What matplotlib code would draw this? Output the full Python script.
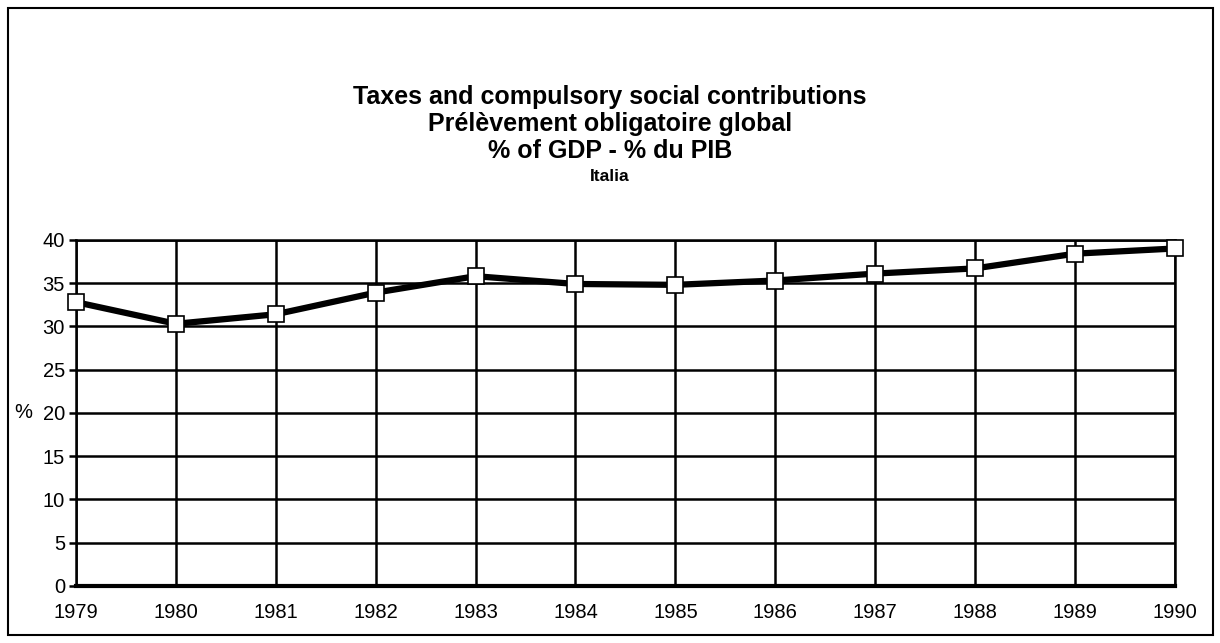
import matplotlib
matplotlib.use('Agg')
import matplotlib.pyplot as plt
from matplotlib.patches import Rectangle
from matplotlib.transforms import blended_transform_factory

plt.rcParams['font.family'] = ['Liberation Sans', 'DejaVu Sans']

years = [1979, 1980, 1981, 1982, 1983, 1984, 1985, 1986, 1987, 1988, 1989, 1990]
pct_gdp = [32.8, 30.3, 31.4, 33.9, 35.8, 34.9, 34.8, 35.3, 36.1, 36.7, 38.4, 39.0]
y_ticks = [0, 5, 10, 15, 20, 25, 30, 35, 40]

fig = plt.figure(figsize=(12.2, 6.43), dpi=100)
ax = fig.add_axes([0.0623, 0.0887, 0.9007, 0.5383])

ax.plot(years, pct_gdp, color='black', linewidth=4.5, marker='s', markersize=11,
        markerfacecolor='white', markeredgecolor='black', markeredgewidth=1.2,
        zorder=3, clip_on=False)

ax.set_xlim(years[0], years[-1])
ax.set_ylim(0, 40)
ax.set_xticks(years)
ax.set_yticks(y_ticks)
ax.grid(True, color='black', linewidth=1.8)
for s in ['left', 'bottom', 'right', 'top']:
    ax.spines[s].set_linewidth(1.8)
ax.spines['bottom'].set_linewidth(3)
ax.tick_params(axis='x', length=0, pad=12, labelsize=14.5)
ax.tick_params(axis='y', length=5, width=1.8, pad=3, labelsize=14.5)

# "%" sits on the same line as the 20 tick
trans = blended_transform_factory(fig.transFigure, ax.transData)
ax.text(14 / 1220, 20, '%', transform=trans, ha='left', va='center', fontsize=14.5)

fig.text(0.5, 0.849, 'Taxes and compulsory social contributions', ha='center',
         va='center', fontsize=18, fontweight='bold')
fig.text(0.5, 0.807, 'Prélèvement obligatoire global', ha='center',
         va='center', fontsize=18, fontweight='bold')
fig.text(0.5, 0.765, '% of GDP - % du PIB', ha='center',
         va='center', fontsize=18, fontweight='bold')
fig.text(0.5, 0.725, 'Italia', ha='center', va='center', fontsize=12.5,
         fontweight='bold')

fig.patches.append(Rectangle((8 / 1220, 8 / 643), 1205 / 1220, 627 / 643,
                             transform=fig.transFigure, fill=False,
                             edgecolor='black', linewidth=1.5))

fig.savefig('out.png', dpi=100)
